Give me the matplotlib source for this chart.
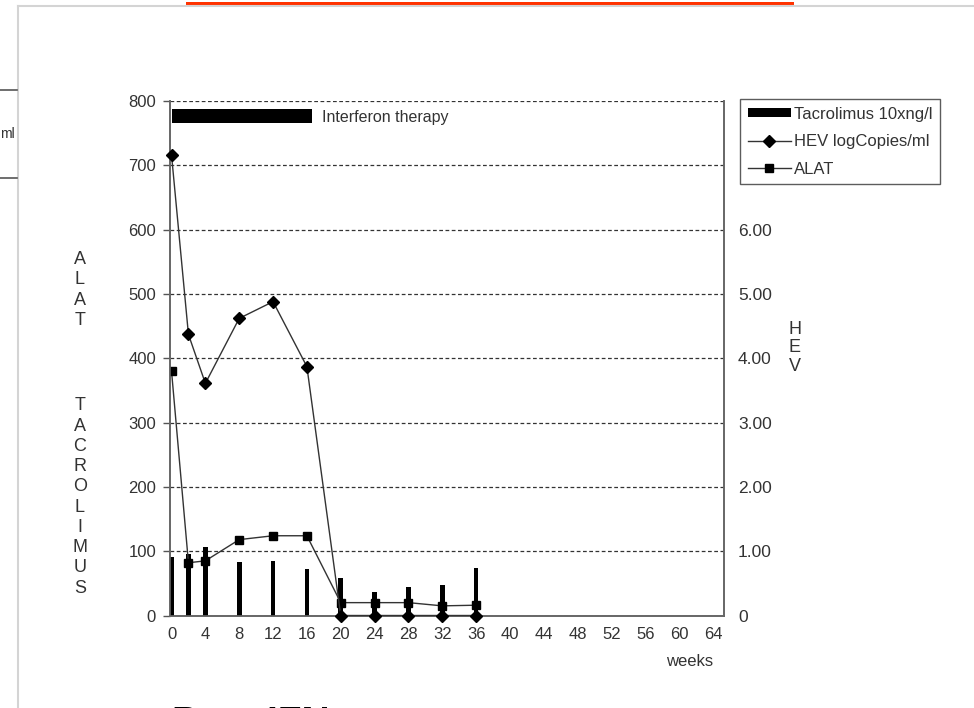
import numpy as np
import matplotlib
matplotlib.use("Agg")
import matplotlib.pyplot as plt
from matplotlib.lines import Line2D
from matplotlib.patches import Rectangle

plt.rcParams['font.family'] = ['Liberation Sans Narrow', 'Liberation Sans', 'DejaVu Sans']

# データ
weeks = [0, 2, 4, 8, 12, 16, 20, 24, 28, 32, 36]
tacrolimus = [91, 95, 106, 83, 85, 73, 59, 37, 44, 48, 74]     # x10 ng/l
alat = [380, 82, 85, 118, 124, 124, 20, 20, 20, 15, 16]
hev = [7.16, 4.37, 3.61, 4.62, 4.88, 3.87, 0, 0, 0, 0, 0]       # log copies/ml
week_ticks = list(range(0, 65, 4))
left_ticks = list(range(0, 801, 100))
right_ticks = [0, 1, 2, 3, 4, 5, 6]
right_labels = ["0", "1.00", "2.00", "3.00", "4.00", "5.00", "6.00"]
ifn_start, ifn_end = 0.1, 16.6   # interferon therapy (weeks)

W, H = 974, 708
fig = plt.figure(figsize=(W / 100, H / 100), dpi=100)

def fx(px):
    return px / W

def fy(py):
    return 1 - py / H

ax = fig.add_axes([fx(170), fy(615.5), fx(724) - fx(170), fy(101) - fy(615.5)])
ax2 = ax.twinx()

tc = '#333333'
# タクロリムス
bars = ax.bar(weeks, tacrolimus, width=0.55, color='black', zorder=3, label='Tacrolimus 10xng/l')
# ALAT
l_alat, = ax.plot(weeks, alat, color='#333333', lw=1, marker='s', ms=5.5, mfc='black', mec='black',
                  zorder=4, label='ALAT')
# HEV
l_hev, = ax2.plot(weeks, hev, color='#333333', lw=1, marker='D', ms=6.3, mfc='black', mec='black',
                  zorder=4, label='HEV logCopies/ml', clip_on=False)

# interferon bar
ax.barh(777, ifn_end - ifn_start, left=ifn_start, height=22, color='black', zorder=3)
ax.text(17.8, 775, 'Interferon therapy', fontsize=11.5, color=tc, va='center', ha='left')

ax.set_xlim(-0.18, 65.3)
ax.set_ylim(0, 800)
ax2.set_ylim(0, 8)
ax.set_xticks(week_ticks)
ax.set_xticklabels([str(w) for w in week_ticks], fontsize=12, color=tc)
ax.set_yticks(left_ticks)
ax.set_yticklabels([str(v) for v in left_ticks], fontsize=12, color=tc)
ax2.set_yticks(right_ticks)
ax2.set_yticklabels(right_labels, fontsize=12.5, color=tc)
ax.tick_params(axis='x', length=0, pad=8)
ax.tick_params(axis='y', length=5, width=1, color='#555555', pad=5)
ax2.tick_params(axis='y', length=0, pad=10)

ax.yaxis.grid(True, linestyle=(0, (3, 2)), color='#333333', lw=0.9)
ax.set_axisbelow(True)
for a in (ax, ax2):
    a.spines['top'].set_visible(False)
    for s in ('left', 'right', 'bottom'):
        a.spines[s].set_color('#666666')
        a.spines[s].set_linewidth(1.2)

ax.patch.set_visible(False)
ax2.patch.set_visible(False)

leg = ax2.legend([bars, l_hev, l_alat], ['Tacrolimus 10xng/l', 'HEV logCopies/ml', 'ALAT'],
                 loc='upper left', bbox_to_anchor=(fx(740), fy(99)), bbox_transform=fig.transFigure,
                 fontsize=12, frameon=True, fancybox=False, edgecolor='#333333',
                 handlelength=2.6, handleheight=0.5, handletextpad=0.2, labelspacing=0.75,
                 borderpad=0.45, borderaxespad=0)
leg.get_frame().set_linewidth(1.0)
for t in leg.get_texts():
    t.set_color(tc)

# axis titles (stacked letters)
fig.text(fx(80), fy(290), "\n".join("ALAT"), ha='center', va='center', fontsize=13,
         color=tc, linespacing=1.25)
fig.text(fx(80), fy(497), "\n".join("TACROLIMUS"), ha='center', va='center', fontsize=13,
         color=tc, linespacing=1.25)
fig.text(fx(795), fy(348), "\n".join("HEV"), ha='center', va='center', fontsize=13,
         color=tc, linespacing=1.1)
fig.text(fx(690), fy(662), 'weeks', ha='center', va='center', fontsize=12, color=tc)

# slide decoration
fig.add_artist(Line2D([fx(17.5), fx(974)], [fy(6), fy(6)], color='#d4d4d4', lw=1.5))
fig.add_artist(Line2D([fx(17.5), fx(17.5)], [fy(6), fy(708)], color='#d4d4d4', lw=1.5))
fig.add_artist(Rectangle((fx(186), fy(7)), fx(794) - fx(186), fy(2) - fy(7),
                         transform=fig.transFigure, color='#ff3300', lw=0))
fig.add_artist(Line2D([0, fx(17)], [fy(90), fy(90)], color='#555555', lw=1.2))
fig.add_artist(Line2D([0, fx(17)], [fy(178), fy(178)], color='#555555', lw=1.2))
fig.text(fx(0.5), fy(134), 'ml', ha='left', va='center', fontsize=10, color=tc)
fig.text(fx(172), fy(706), 'Post IFN', ha='left', va='top', fontsize=28,
         fontweight='bold', color='black', family=['Liberation Sans', 'DejaVu Sans'])

fig.savefig('out.png', dpi=100)
